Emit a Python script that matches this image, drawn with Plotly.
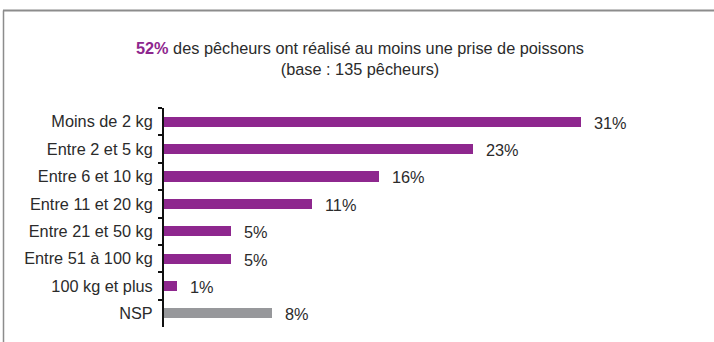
import plotly.graph_objects as go

# Catch size categories and share of anglers (%)
categories = [
    "Moins de 2 kg",
    "Entre 2 et 5 kg",
    "Entre 6 et 10 kg",
    "Entre 11 et 20 kg",
    "Entre 21 et 50 kg",
    "Entre 51 à 100 kg",
    "100 kg et plus",
    "NSP",
]
values = [31, 23, 16, 11, 5, 5, 1, 8]
value_labels = ["31%", "23%", "16%", "11%", "5%", "5%", "1%", "8%"]

PURPLE = "#8E278E"
GREY = "#97989B"
TEXT = "#2b2b2b"
FONT = "Liberation Sans, Arial, sans-serif"
FS = 16.3

colors = [GREY if c == "NSP" else PURPLE for c in categories]

W, H = 714, 342
ML, MR, MT, MB = 164, 12, 108, 15
PW, PH = W - ML - MR, H - MT - MB

fig = go.Figure(
    go.Bar(
        x=values,
        y=categories,
        orientation="h",
        marker=dict(color=colors, line=dict(width=0)),
        width=0.37,
        hoverinfo="skip",
    )
)

# value labels just past the end of each bar
for c, v, lab in zip(categories, values, value_labels):
    fig.add_annotation(
        x=v, y=c, xref="x", yref="y", text=lab, showarrow=False,
        xanchor="left", xshift=11, yshift=-1,
        font=dict(family=FONT, size=FS, color=TEXT),
    )

# two-line heading
fig.add_annotation(
    xref="paper", yref="paper",
    x=(360 - ML) / PW, y=(H - MB - 58.5) / PH,
    text=(f"<span style='color:{PURPLE}'><b>52%</b></span> des pêcheurs ont réalisé au moins une prise de poissons"
          "<br>(base : 135 pêcheurs)"),
    showarrow=False, xanchor="center", yanchor="middle",
    font=dict(family=FONT, size=FS, color=TEXT),
)

# frame: top and left edges
def px_x(p):
    return (p - ML) / PW

def px_y(p):
    return (H - MB - p) / PH

fig.add_shape(type="line", xref="paper", yref="paper",
              x0=px_x(3), x1=px_x(714), y0=px_y(10.5), y1=px_y(10.5),
              line=dict(color="#8c8c8c", width=2))
fig.add_shape(type="line", xref="paper", yref="paper",
              x0=px_x(3.5), x1=px_x(3.5), y0=px_y(10.5), y1=px_y(342),
              line=dict(color="#8c8c8c", width=1.5))

fig.update_layout(
    width=W, height=H,
    margin=dict(l=ML, r=MR, t=MT, b=MB),
    plot_bgcolor="white", paper_bgcolor="white",
    showlegend=False,
    bargap=0,
    font=dict(family=FONT, size=FS, color=TEXT),
    xaxis=dict(range=[0, 40], visible=False, showgrid=False, zeroline=False),
    yaxis=dict(
        autorange="reversed",
        showline=True, linecolor="#111111", linewidth=2,
        ticks="outside", ticklen=4, tickwidth=2, tickcolor="#111111",
        tickson="boundaries",
        showgrid=False, zeroline=False,
        ticklabelstandoff=6,
        tickfont=dict(family=FONT, size=FS, color=TEXT),
    ),
)

fig.write_html("out.html")
